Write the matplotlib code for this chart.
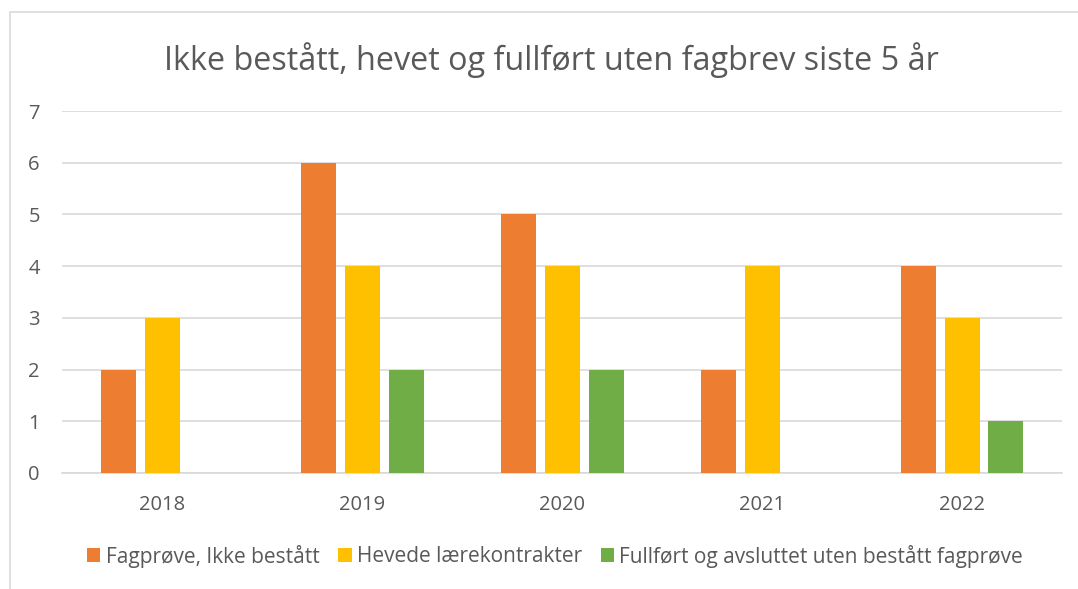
import matplotlib
matplotlib.use("Agg")
import matplotlib.pyplot as plt
from matplotlib.patches import Patch, Rectangle
import numpy as np

years = ["2018", "2019", "2020", "2021", "2022"]
series_names = ["Fagprøve, Ikke bestått", "Hevede lærekontrakter",
                "Fullført og avsluttet uten bestått fagprøve"]
ikke_bestatt = [2, 6, 5, 2, 4]
hevede = [3, 4, 4, 4, 3]
fullfort = [0, 2, 2, 0, 1]
colors = ["#ED7D31", "#FFC000", "#70AD47"]
title = "Ikke bestått, hevet og fullført uten fagbrev siste 5 år"

plt.rcParams['font.family'] = ['Open Sans', 'DejaVu Sans']
txt = "#595959"

fig = plt.figure(figsize=(10.78, 5.89), dpi=100)
fig.patches.append(Rectangle((10/1078, -0.01), 1.2, 1 - 12/589 + 0.01,
                             transform=fig.transFigure, fill=False,
                             edgecolor="#D9D9D9", linewidth=1.2))
ax = fig.add_axes([62/1078, 116/589, 1000/1078, 362/589])

x = np.arange(len(years))
w = 0.175
off = 0.22
for i, (vals, c) in enumerate(zip([ikke_bestatt, hevede, fullfort], colors)):
    ax.bar(x + (i - 1) * off, vals, width=w, color=c, zorder=3)

ax.set_xlim(-0.5, len(years) - 0.5)
ax.set_ylim(0, 7)
ax.set_yticks(range(0, 8))
ax.set_xticks(x)
ax.set_xticklabels(years)
ax.yaxis.grid(True, color="#D9D9D9", linewidth=1.2, zorder=0)
for s in ["top", "right", "left"]:
    ax.spines[s].set_visible(False)
ax.spines["bottom"].set_color("#D9D9D9")
ax.spines["bottom"].set_linewidth(1.2)
ax.tick_params(axis="both", length=0, colors=txt, labelsize=14.5)
ax.tick_params(axis="y", pad=16)
ax.tick_params(axis="x", pad=16)

fig.text(551/1078, 1 - 60/589, title, ha="center", va="center",
         fontsize=23.3, color=txt)

handles = [Patch(facecolor=c, edgecolor="none") for c in colors]
fig.legend(handles, series_names, loc="center", bbox_to_anchor=(555/1078, 1 - 556/589),
           ncol=3, frameon=False, fontsize=15, labelcolor=txt,
           handlelength=0.65, handleheight=0.65, handletextpad=0.25, columnspacing=0.9)

fig.savefig("out.png", dpi=100)
